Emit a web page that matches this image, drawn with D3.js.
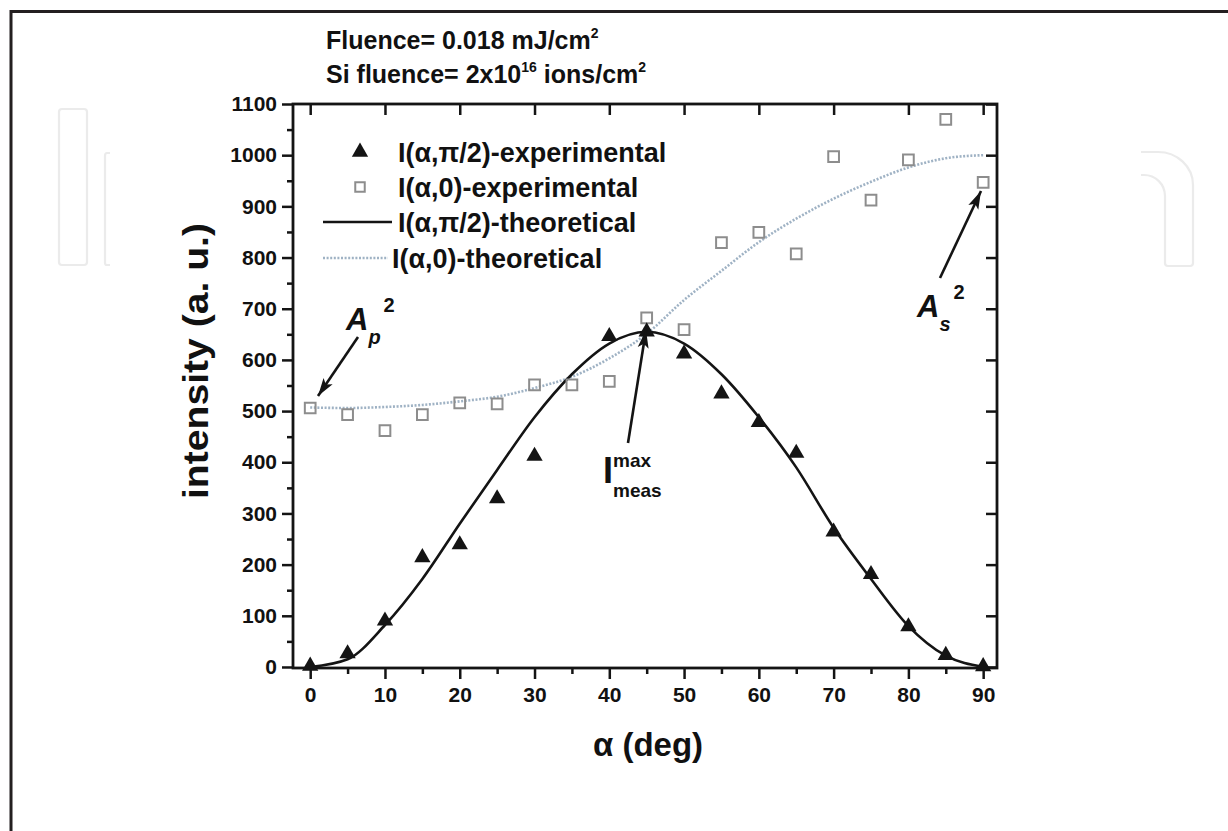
<!DOCTYPE html>
<html>
<head>
<meta charset="utf-8">
<script src="https://cdn.jsdelivr.net/npm/d3@7"></script>
<style>
  html, body { margin: 0; padding: 0; background: #fff; }
  svg { display: block; }
  text { font-family: "Liberation Sans", Arial, sans-serif; font-weight: bold; fill: #111; }
</style>
</head>
<body>
<svg id="chart" width="1228" height="831"></svg>
<script>
// Polarisation angle α (deg) for the measured points
const piHalfAngles = [0, 5, 10, 15, 20, 25, 30, 40, 45, 50, 55, 60, 65, 70, 75, 80, 85, 90];
const piHalfValues = [2, 26, 90, 214, 239, 329, 412, 646, 655, 612, 534, 478, 418, 264, 181, 79, 23, 1];

const zeroAngles = [0, 5, 10, 15, 20, 25, 30, 35, 40, 45, 50, 55, 60, 65, 70, 75, 80, 85, 90];
const zeroValues = [506, 493, 462, 493, 516, 514, 551, 551, 558, 682, 659, 829, 849, 807, 997, 912, 991, 1070, 947];

// Model curves, sampled every 5°
const theoryAngles = [0, 5, 10, 15, 20, 25, 30, 35, 40, 45, 50, 55, 60, 65, 70, 75, 80, 85, 90];
const theoryPiHalf = [0, 15, 82, 172, 280, 385, 488, 572, 632, 655, 632, 572, 488, 390, 272, 172, 80, 22, 0];
const theoryZero   = [507, 506, 508, 512, 519, 528, 545, 567, 603, 651, 717, 774, 830, 876, 915, 948, 976, 994, 1000];

const xTicks = [0, 10, 20, 30, 40, 50, 60, 70, 80, 90];
const xMinorTicks = [5, 15, 25, 35, 45, 55, 65, 75, 85];
const yTicks = [0, 100, 200, 300, 400, 500, 600, 700, 800, 900, 1000, 1100];
const yMinorTicks = [50, 150, 250, 350, 450, 550, 650, 750, 850, 950, 1050];

const legendLabels = ["I(α,π/2)-experimental", "I(α,0)-experimental", "I(α,π/2)-theoretical", "I(α,0)-theoretical"];

const svg = d3.select("#chart");
const box = { left: 293, right: 997, top: 104, bottom: 668 };

const x = d3.scaleLinear().domain([-2.3, 91.85]).range([box.left, box.right]);
const y = d3.scaleLinear().domain([-2, 1100]).range([box.bottom, box.top]);

const ink = "#141414";
const zeroColor = "#8d8d8d";
const zeroLineColor = "#9fb2c4";

// Page frame
svg.append("line").attr("x1", 10).attr("x2", 1228).attr("y1", 11.5).attr("y2", 11.5)
  .attr("stroke", "#231f20").attr("stroke-width", 3);
svg.append("line").attr("x1", 11).attr("x2", 11).attr("y1", 10).attr("y2", 831)
  .attr("stroke", "#231f20").attr("stroke-width", 3);

// Publisher logo outline behind the figure
const logo = svg.append("g").attr("fill", "none").attr("stroke", "#ebebeb").attr("stroke-width", 2.2);
logo.append("rect").attr("x", 59).attr("y", 109).attr("width", 28).attr("height", 156).attr("rx", 3);
logo.append("path").attr("d", "M110,153 H107 Q105,153 105,156 V263 Q105,265 107,265 H110");
logo.append("path").attr("d", "M1141,152 H1158 A35,33 0 0 1 1193,185 V263 Q1193,266 1190,266 H1168 Q1165,266 1165,263 V196 A21,21 0 0 0 1144,175 H1141");

// Arrowhead marker
svg.append("defs").append("marker")
  .attr("id", "head").attr("viewBox", "-18 -7 19 14")
  .attr("refX", 0).attr("refY", 0)
  .attr("markerWidth", 19).attr("markerHeight", 14)
  .attr("markerUnits", "userSpaceOnUse").attr("orient", "auto")
  .append("path").attr("d", "M0,0 L-18,-5.5 L-14,0 L-18,5.5 Z").attr("fill", ink);

// Axes
function styleAxis(g) {
  g.select(".domain").remove();
  g.selectAll(".tick line").attr("stroke", ink).attr("stroke-width", 2.5);
  g.selectAll(".tick text").attr("fill", ink).style("font-size", "21px")
    .style("font-family", "'Liberation Sans', Arial, sans-serif").style("font-weight", "bold");
}

svg.append("g").attr("transform", `translate(${box.left},0)`)
  .call(d3.axisLeft(y).tickValues(yTicks).tickSize(11).tickPadding(5).tickFormat(d3.format("d")))
  .call(styleAxis);
svg.append("g").attr("transform", `translate(${box.left},0)`)
  .call(d3.axisLeft(y).tickValues(yMinorTicks).tickSize(6).tickFormat(""))
  .call(styleAxis);
svg.append("g").attr("transform", `translate(${box.right},0)`)
  .call(d3.axisRight(y).tickValues(yTicks).tickSize(-11).tickFormat(""))
  .call(styleAxis);

svg.append("g").attr("transform", `translate(0,${box.bottom})`)
  .call(d3.axisBottom(x).tickValues(xTicks).tickSize(11).tickPadding(8).tickFormat(d3.format("d")))
  .call(styleAxis);
svg.append("g").attr("transform", `translate(0,${box.bottom})`)
  .call(d3.axisBottom(x).tickValues(xMinorTicks).tickSize(6).tickFormat(""))
  .call(styleAxis);
svg.append("g").attr("transform", `translate(0,${box.top})`)
  .call(d3.axisTop(x).tickValues(xTicks).tickSize(-11).tickFormat(""))
  .call(styleAxis);

svg.append("rect")
  .attr("x", box.left).attr("y", box.top)
  .attr("width", box.right - box.left).attr("height", box.bottom - box.top)
  .attr("fill", "none").attr("stroke", ink).attr("stroke-width", 2.8);

// Axis titles
svg.append("text").attr("x", 648).attr("y", 756).attr("text-anchor", "middle")
  .style("font-size", "33px").text("α (deg)");
svg.append("text").attr("transform", "translate(208,361) rotate(-90)").attr("text-anchor", "middle")
  .attr("textLength", 276).attr("lengthAdjust", "spacingAndGlyphs")
  .style("font-size", "35px").text("intensity (a. u.)");

// Heading
const h1 = svg.append("text").attr("x", 326).attr("y", 49).style("font-size", "25px");
h1.append("tspan").text("Fluence= 0.018 mJ/cm");
h1.append("tspan").attr("dy", -11).style("font-size", "14px").text("2");
const h2 = svg.append("text").attr("x", 326).attr("y", 83).style("font-size", "25px");
h2.append("tspan").text("Si fluence= 2x10");
h2.append("tspan").attr("dy", -11).style("font-size", "14px").text("16");
h2.append("tspan").attr("dy", 11).text(" ions/cm");
h2.append("tspan").attr("dy", -11).style("font-size", "14px").text("2");

// Curves
const line = d3.line().x(d => x(d[0])).y(d => y(d[1])).curve(d3.curveMonotoneX);
const plot = svg.append("g");

plot.append("path")
  .datum(theoryAngles.map((a, i) => [a, theoryZero[i]]))
  .attr("d", line).attr("fill", "none")
  .attr("stroke", zeroLineColor).attr("stroke-width", 2.6).attr("stroke-dasharray", "2,1.6");

plot.append("path")
  .datum(theoryAngles.map((a, i) => [a, theoryPiHalf[i]]))
  .attr("d", line).attr("fill", "none")
  .attr("stroke", ink).attr("stroke-width", 2.6);

// Experimental points
plot.selectAll(".sq").data(zeroAngles.map((a, i) => [a, zeroValues[i]]))
  .join("path").attr("class", "sq")
  .attr("transform", d => `translate(${x(d[0])},${y(d[1])})`)
  .attr("d", d3.symbol(d3.symbolSquare, 115))
  .attr("fill", "none").attr("stroke", zeroColor).attr("stroke-width", 2);

plot.selectAll(".tri").data(piHalfAngles.map((a, i) => [a, piHalfValues[i]]))
  .join("path").attr("class", "tri")
  .attr("transform", d => `translate(${x(d[0])},${y(d[1])})`)
  .attr("d", d3.symbol(d3.symbolTriangle, 115))
  .attr("fill", ink);

// Legend
const legendRows = [152, 187, 222, 258];
const lg = svg.append("g");
lg.append("path").attr("transform", `translate(360,${legendRows[0]})`)
  .attr("d", d3.symbol(d3.symbolTriangle, 115)).attr("fill", ink);
lg.append("path").attr("transform", `translate(360,${legendRows[1]})`)
  .attr("d", d3.symbol(d3.symbolSquare, 90)).attr("fill", "none")
  .attr("stroke", zeroColor).attr("stroke-width", 2);
lg.append("line").attr("x1", 323).attr("x2", 392).attr("y1", legendRows[2]).attr("y2", legendRows[2])
  .attr("stroke", ink).attr("stroke-width", 2.6);
lg.append("line").attr("x1", 323).attr("x2", 388).attr("y1", legendRows[3]).attr("y2", legendRows[3])
  .attr("stroke", zeroLineColor).attr("stroke-width", 2.6).attr("stroke-dasharray", "2,1.6");
const legendX = [398, 398, 398, 392];
legendLabels.forEach((t, i) => {
  lg.append("text").attr("x", legendX[i]).attr("y", legendRows[i] + 10)
    .style("font-size", "27px").text(t);
});

// Annotations
function arrow(x1, y1, x2, y2) {
  svg.append("line").attr("x1", x1).attr("y1", y1).attr("x2", x2).attr("y2", y2)
    .attr("stroke", ink).attr("stroke-width", 2.6).attr("marker-end", "url(#head)");
}
function amplitude(xA, yA, sub) {
  const t = svg.append("text").attr("x", xA).attr("y", yA);
  t.append("tspan").style("font-size", "31px").style("font-style", "italic").text("A");
  t.append("tspan").attr("dy", 14).style("font-size", "20px").style("font-style", "italic").text(sub);
  t.append("tspan").attr("dy", -32).attr("dx", 3).style("font-size", "20px").text("2");
}
amplitude(346, 330, "p");
arrow(358, 337, 318, 396);
amplitude(917, 317, "s");
arrow(940, 278, 981, 191);

svg.append("text").attr("x", 603).attr("y", 483).style("font-size", "36px").text("I");
svg.append("text").attr("x", 613).attr("y", 467).style("font-size", "19px").text("max");
svg.append("text").attr("x", 613).attr("y", 497).style("font-size", "19px").text("meas");
arrow(628, 443, 646, 330);
</script>
</body>
</html>
